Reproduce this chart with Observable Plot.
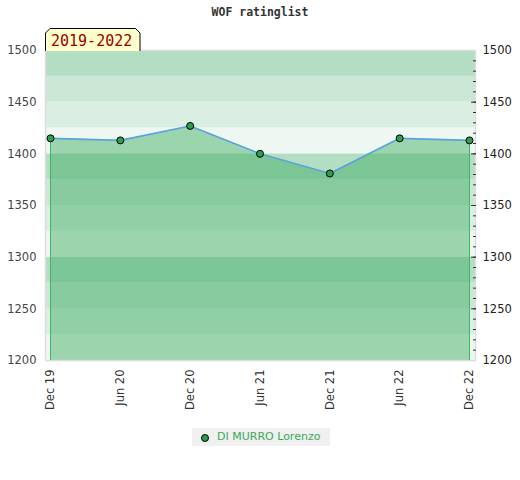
<!DOCTYPE html>
<html>
<head>
<meta charset="utf-8">
<script src="https://cdn.jsdelivr.net/npm/d3@7"></script>
<script src="https://cdn.jsdelivr.net/npm/@observablehq/plot@0.6"></script>
<style>
  html, body { margin: 0; padding: 0; background: #fff; }
  #wrap { position: relative; width: 520px; height: 480px; overflow: hidden; font-family: "DejaVu Sans", sans-serif; }
  #title { position: absolute; left: 0; top: 5px; width: 520px; text-align: center;
           font: bold 11.5px "DejaVu Sans Mono", monospace; color: #333; }
  #tag { position: absolute; left: 45px; top: 28px; width: 96px; height: 23px; }
  #legend { position: absolute; left: 192px; top: 428px; width: 138px; height: 18px; background: #f0f0f0;
            font: 11px "DejaVu Sans", sans-serif; color: #3aaa5a; }
  #legend .dot { position: absolute; left: 9px; top: 6px; width: 6px; height: 6px; border-radius: 50%;
                 background: #2e9e50; border: 1px solid #000; }
  #legend .txt { position: absolute; left: 25px; top: 2px; white-space: nowrap; }
</style>
</head>
<body>
<div id="wrap">
  <div id="chart"></div>
  <div id="title">WOF ratinglist</div>
  <svg id="tag" width="96" height="23" viewBox="0 0 96 23">
    <path d="M0.5,23 L0.5,5 L5,0.5 L90.5,0.5 L95,5 L95,23" fill="#ffffcc" stroke="#000" stroke-width="1"/>
    <text x="6" y="18" font-family="DejaVu Sans Mono, monospace" font-size="15" fill="#990000">2019-2022</text>
  </svg>
  <div id="legend"><span class="dot"></span><span class="txt">DI MURRO Lorenzo</span></div>
</div>
<script>
// Data
const periods = ["Dec 19", "Jun 20", "Dec 20", "Jun 21", "Dec 21", "Jun 22", "Dec 22"];
const ratings = [1415, 1413, 1427, 1400, 1381, 1415, 1413];
const yTicks = [1200, 1250, 1300, 1350, 1400, 1450, 1500];
const yMinorTicks = d3.range(1210, 1500, 10);
const bandStarts = d3.range(1200, 1500, 25);
const bandShades = ["#eef7f1", "#dbeee2", "#c9e7d4", "#b3dec3"];

const data = periods.map((p, i) => ({period: p, rating: ratings[i]}));
const bands = bandStarts.map((b, i) => ({lo: b, hi: b + 25, shade: bandShades[i % 4]}));
const yMin = yTicks[0], yMax = yTicks[yTicks.length - 1];
const ends = [data[0], data[data.length - 1]];

const chart = Plot.plot({
  width: 520,
  height: 480,
  marginTop: 50,
  marginBottom: 120,
  marginLeft: 45,
  marginRight: 45,
  style: {fontFamily: "DejaVu Sans, sans-serif", fontSize: "11px", background: "transparent"},
  x: {type: "point", domain: periods, padding: 0, round: false, insetLeft: 5, insetRight: 6, label: null},
  y: {domain: [yMin, yMax], label: null},
  marks: [
    Plot.rectY(bands, {y1: "lo", y2: "hi", fill: "shade"}),
    Plot.areaY(data, {x: "period", y1: yMin, y2: "rating", fill: "#3aa960", fillOpacity: 0.46}),
    Plot.frame({stroke: "#dddddd", strokeWidth: 1.5}),
    Plot.ruleX(ends, {x: "period", y1: yMin, y2: "rating", stroke: "#3cb860", strokeWidth: 1}),
    Plot.lineY(data, {x: "period", y: "rating", stroke: "#5ba3dc", strokeWidth: 1.6}),
    Plot.dot(data, {x: "period", y: "rating", r: 3.5, fill: "#2e9e50", stroke: "#000", strokeWidth: 1}),
    Plot.axisY({anchor: "left", ticks: yTicks, tickSize: 0, tickPadding: 9, tickFormat: "d", color: "#444", fontSize: 11.5, label: null}),
    Plot.axisY({anchor: "right", ticks: yTicks, tickSize: 0, tickPadding: 7, tickFormat: "d", color: "#222", fontSize: 11.5, label: null}),
    Plot.axisY({anchor: "right", ticks: yMinorTicks, tickSize: -3, tickFormat: () => "", color: "#333", label: null}),
    Plot.axisY({anchor: "right", ticks: yTicks.slice(1, -1), tickSize: -5, tickFormat: () => "", color: "#333", label: null}),
    Plot.axisX({ticks: periods, tickSize: 0, tickPadding: 9, tickRotate: -90, color: "#333", fontSize: 11.5, label: null})
  ]
});
document.getElementById("chart").appendChild(chart);
</script>
</body>
</html>
